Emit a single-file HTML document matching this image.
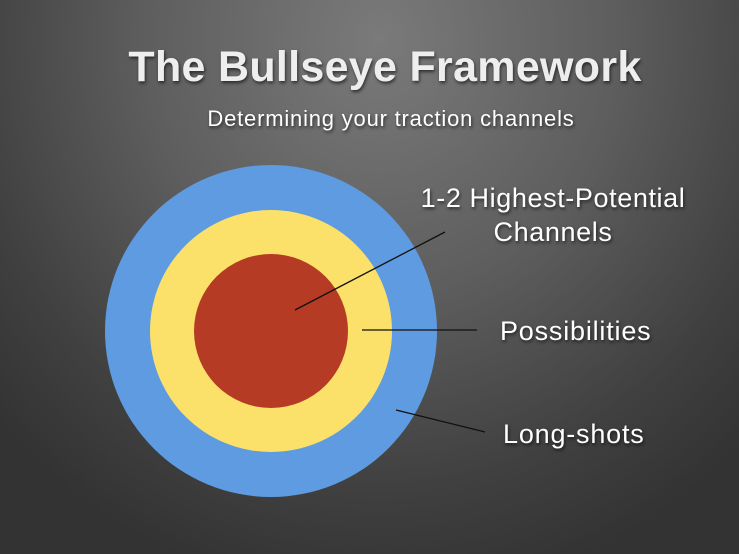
<!DOCTYPE html>
<html><head><style>
html,body{margin:0;padding:0}
body{width:739px;height:554px;overflow:hidden;background:radial-gradient(ellipse 520px 560px at 380px 40px,#7a7a7a 0%,#5e5e5e 45%,#404040 80%,#333 100%);font-family:"Liberation Sans",sans-serif;position:relative}
.t{position:absolute;color:#fff;text-shadow:1px 2px 3px rgba(0,0,0,0.6);white-space:nowrap}
</style></head><body>
<div class="t" style="left:0;width:770px;text-align:center;top:43px;font-size:43px;font-weight:bold;color:#eee;letter-spacing:0.3px">The Bullseye Framework</div>
<div class="t" style="left:0;width:782px;text-align:center;top:106px;font-size:22px;letter-spacing:0.8px">Determining your traction channels</div>
<svg width="739" height="554" style="position:absolute;left:0;top:0">
<circle cx="271" cy="331" r="166" fill="#5f9be0"/>
<circle cx="271" cy="331" r="121" fill="#fbe16a"/>
<circle cx="271" cy="331" r="77" fill="#b53b25"/>
<line x1="295" y1="310" x2="445" y2="232" stroke="#111" stroke-width="1.3"/>
<line x1="362" y1="330" x2="477" y2="330" stroke="#111" stroke-width="1.3"/>
<line x1="396" y1="410" x2="485" y2="432" stroke="#111" stroke-width="1.3"/>
</svg>
<div class="t" style="left:403px;width:300px;text-align:center;top:181px;font-size:27px;line-height:34px;letter-spacing:0.6px">1-2 Highest-Potential<br>Channels</div>
<div class="t" style="left:500px;top:316px;font-size:27px;letter-spacing:0.8px">Possibilities</div>
<div class="t" style="left:503px;top:419px;font-size:27px;letter-spacing:0.8px">Long-shots</div>
</body></html>
